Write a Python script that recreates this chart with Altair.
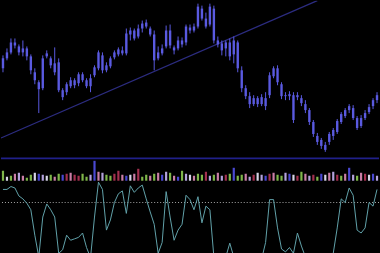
import altair as alt
import pandas as pd

# ---- price candles (arbitrary price units) ----
opens = [92,102,108,118,114,108,112,104,88,78,72,104,102,97,98,70,68,74,80,77,
         86,80,74,85,92,105,90,94,103,106,110,107,126,130,124,132,138,132,126,102,
         107,114,130,113,112,120,118,133,130,134,152,142,136,152,120,117,112,118,106,118,
         90,72,64,56,62,56,62,65,84,92,76,64,64,65,63,62,56,50,38,24,
         20,15,18,24,28,38,44,50,52,42,34,42,48,54,60]
closes = [102,108,118,115,108,112,104,90,80,71,102,107,95,88,70,63,76,80,75,86,
          80,74,82,93,108,90,95,102,108,111,107,127,130,122,132,137,134,126,100,108,
          112,130,115,110,120,116,134,130,134,154,142,134,154,120,116,110,118,104,120,92,
          72,64,56,62,56,63,54,85,92,78,64,65,66,40,65,57,50,38,26,18,
          14,10,26,30,39,46,50,54,42,32,42,47,53,60,65]
highs = [105,112,122,122,116,120,114,106,92,80,105,110,104,113,102,72,78,83,82,88,
         88,82,86,95,110,108,98,104,110,113,114,132,133,132,136,140,141,134,130,114,
         116,135,136,115,124,123,136,136,137,157,155,148,157,155,124,120,120,122,124,120,
         94,75,68,65,64,66,68,88,94,95,78,68,69,68,68,65,60,52,40,27,
         22,18,28,32,41,48,52,56,55,44,45,50,56,62,68]
lows = [88,100,106,112,105,104,100,86,76,47,70,102,92,85,68,60,65,72,72,74,
        78,72,68,83,90,87,88,92,101,104,105,105,120,120,122,128,132,124,90,100,
        105,112,112,106,110,113,115,127,128,132,140,132,134,117,113,105,104,100,97,88,
        68,61,52,54,53,54,50,62,82,75,61,60,60,37,60,54,47,35,23,15,
        11,8,15,20,26,36,42,47,40,30,32,40,46,51,57]

# ---- volume ----
volume = [10,4,5,7,8, 5,3,6,8,7, 6,5,6,4,7, 6,7,8,6,5, 7,4,6,20,9,
          8,6,5,7,10, 6,5,6,7,12, 4,6,5,7,8, 6,9,8,5,4, 10,7,6,5,7,
          6,9,5,6,8, 5,6,7,13,5, 6,7,4,6,8, 6,5,7,8,6, 5,8,7,6,5,
          9,7,5,6,4, 7,6,8,9,6, 5,7,13,6,5, 8,7,6,7,5]
vol_kind = list("gwgpl" "pggwb" "lwgpg" "brprr" "gglbp"
                "lggrr" "pbwpr" "ggpgp" "blgpb" "glwpg"
                "grlgp" "lrgbg" "gplrw" "lbrpg" "glbwr"
                "gplrg" "bwplr" "gpblg" "prwbl")

# ---- oscillator ----
osc = [88,88,92,90,79,75,69,60,25,-5,50,68,60,50,0,5,25,18,20,22,
       28,8,-6,50,98,88,32,46,70,82,86,55,93,84,90,94,75,57,40,0,
       15,85,50,18,32,40,80,74,60,78,42,65,60,-5,-20,-20,-5,14,-5,-20,
       -30,-30,-25,-20,-15,-8,15,74,74,35,6,2,8,0,28,10,-5,-20,-25,-25,
       -20,-15,-10,0,35,75,70,90,80,32,28,35,70,65,88]
osc_level = [70]

# ---- trend line ----
trend_idx = [-0.5, 79]
trend_price = [22, 160]

n = len(closes)
df = pd.DataFrame({
    "idx": list(range(n)), "open": opens, "close": closes,
    "high": highs, "low": lows, "vol": volume, "kind": vol_kind, "osc": osc,
})
trend = pd.DataFrame({"idx": trend_idx, "price": trend_price})
lvl = pd.DataFrame({"lv": osc_level})

W = 380
xs = alt.Scale(domain=[-0.5, n - 0.5], nice=False, zero=False, padding=0)
X = alt.X("idx:Q", scale=xs, axis=None)

candle_col = "#5a5ae0"
ps = alt.Scale(domain=[3, 160], nice=False, zero=False)

wicks = alt.Chart(df).mark_rule(color=candle_col, strokeWidth=1).encode(
    x=X, y=alt.Y("low:Q", scale=ps, axis=None), y2="high:Q")
bodies = alt.Chart(df).mark_bar(color=candle_col, size=2.4).encode(
    x=X, y=alt.Y("open:Q", scale=ps, axis=None), y2="close:Q")
tline = alt.Chart(trend).mark_line(color="#2c2c80", strokeWidth=1.2, clip=True).encode(
    x=alt.X("idx:Q", scale=xs, axis=None),
    y=alt.Y("price:Q", scale=ps, axis=None))
price = alt.layer(tline, wicks, bodies).properties(width=W, height=157)

vol_colors = alt.Scale(domain=["g", "p", "l", "r", "b", "w"],
                       range=["#7fb64a", "#c97ea6", "#b3a2dc", "#a3304f", "#4a48d2", "#d6d4e6"])
volbars = alt.Chart(df).mark_bar(size=2.2).encode(
    x=X,
    y=alt.Y("vol:Q", scale=alt.Scale(domain=[0, 23], nice=False), axis=None),
    color=alt.Color("kind:N", scale=vol_colors, legend=None),
)
sep = alt.Chart(lvl).mark_rule(color="#20208a", strokeWidth=1.6).encode(
    x=alt.value(0), x2=alt.value(W), y=alt.value(0.5))
vol = alt.layer(volbars, sep).properties(width=W, height=23)

oscs = alt.Scale(domain=[0, 100], nice=False, zero=False)
osc_line = alt.Chart(df).mark_line(color="#62a2aa", strokeWidth=1, clip=True).encode(
    x=X, y=alt.Y("osc:Q", scale=oscs, axis=None))
osc_lvl = alt.Chart(lvl).mark_rule(color="#a8a8a8", strokeWidth=1, strokeDash=[1, 2]).encode(
    y=alt.Y("lv:Q", scale=oscs, axis=None))
oscp = alt.layer(osc_lvl, osc_line).properties(width=W, height=73)

chart = alt.vconcat(price, vol, oscp, spacing=0).configure(
    background="#000000", padding=0
).configure_view(stroke=None)

chart.save("out.html", embed_options={"renderer": "svg", "actions": False})
